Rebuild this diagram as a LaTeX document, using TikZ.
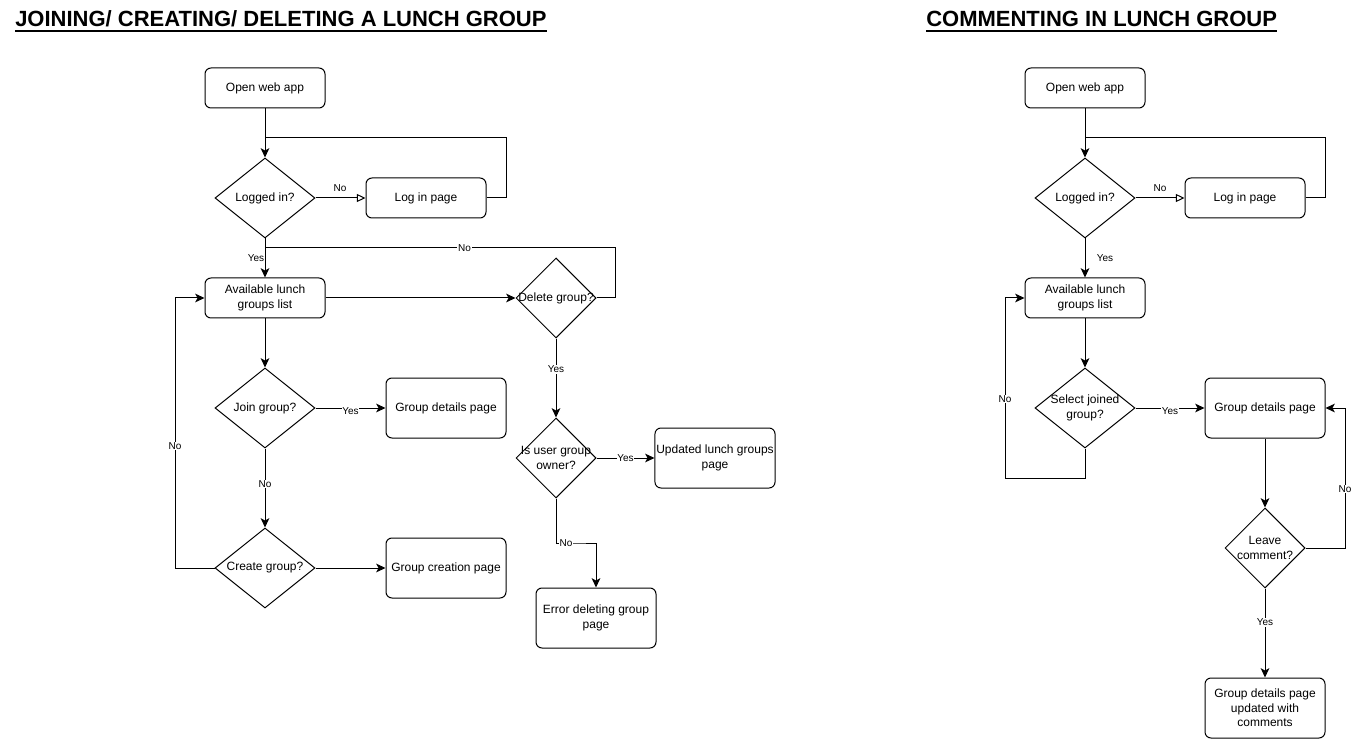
\documentclass[tikz,border=0pt]{standalone}
\usepackage{fontspec}
\setmainfont{Liberation Sans}
\usetikzlibrary{arrows.meta,shapes.geometric,calc}
\tikzset{
  box/.style={draw, rounded corners=4.5pt, line width=0.75pt, minimum width=90pt, minimum height=30pt, inner sep=1pt, align=center, font=\fontsize{9}{11}\selectfont},
  tallbox/.style={box, minimum height=45pt},
  dia/.style={draw, diamond, line width=0.75pt, inner sep=0pt, minimum width=75pt, minimum height=60pt},
  sdia/.style={dia, minimum width=60pt},
  dtext/.style={align=center, inner sep=0pt, font=\fontsize{9}{11}\selectfont},
  arr/.style={line width=0.75pt, -{Stealth[length=7pt,width=6.5pt,inset=1.8pt]}},
  oarr/.style={line width=0.75pt, -{Triangle[open,length=6.5pt,width=6pt,fill=white]}},
  ln/.style={line width=0.75pt},
  lab/.style={fill=white, inner sep=0.6pt, font=\fontsize{7.5}{9}\selectfont},
  ttl/.style={anchor=base west, inner sep=0pt, font=\bfseries\fontsize{16.5}{20}\selectfont}
}
\begin{document}
\begin{tikzpicture}[x=0.75pt,y=-0.75pt]
\useasboundingbox (0,0) rectangle (1360,745);
% titles
\node[ttl] (t1) at (15,27) {JOINING/ CREATING/ DELETING A LUNCH GROUP};
\draw[line width=1.5pt] ([yshift=-3pt]t1.base west) -- ([yshift=-3pt]t1.base east);
\node[ttl] (t2) at (926,27) {COMMENTING IN LUNCH GROUP};
\draw[line width=1.5pt] ([yshift=-3pt]t2.base west) -- ([yshift=-3pt]t2.base east);

% ===== left diagram =====
\node[box] (open1) at (265,88) {Open web app};
\node[dia] (log1) at (265,198) {};
\node[dtext] (log1t) at (log1.center) {Logged in?};
\node[box] (lp1) at (426,198) {Log in page};
\node[box] (av1) at (265,298) {Available lunch\\groups list};
\node[sdia] (del) at (556,298) {};
\node[dtext] (delt) at (del.center) {Delete group?};
\node[sdia] (own) at (556,458) {};
\node[dtext] (ownt) at (own.center) {Is user group\\owner?};
\node[tallbox] (upd) at (715,458) {Updated lunch groups\\page};
\node[tallbox] (err) at (596,618) {Error deleting group\\page};
\node[dia] (join) at (265,408) {};
\node[dtext] (joint) at (join.center) {Join group?};
\node[tallbox] (gdp1) at (446,408) {Group details page};
\node[dia] (cre) at (265,568) {};
\node[dtext] (cret) at (cre.center) {Create group?};
\node[tallbox] (gcp) at (446,568) {Group creation page};

\coordinate (r1) at (506,138);
\coordinate (j1) at (265,138);
\coordinate (r2) at (615,248);
\coordinate (j2) at (265,248);
\coordinate (l1) at (175,568);

\draw[arr] (open1.south) -- (log1.north);
\draw[ln] (lp1.east) -| (r1) -- (j1);
\draw[oarr] (log1.east) -- (lp1.west);
\node[font=\fontsize{7.5}{9}\selectfont, inner sep=0pt] (no1) at (340,188) {No};
\draw[arr] (log1.south) -- (av1.north);
\node[lab] (yes1) at (256,258) {Yes};
\draw[arr] (av1.east) -- (del.west);
\draw[ln] (del.east) -| (r2) -- node[lab,pos=0.43] (no2) {No} (j2);
\draw[arr] (del.south) -- node[lab,pos=0.39] (yes2) {Yes} (own.north);
\draw[arr] (own.east) -- node[lab] (yes3) {Yes} (upd.west);
\draw[arr] (own.south) |- node[lab,pos=0.75] (no3) {No} ($(own.south)!0.5!(err.north)$) -| (err.north);
\draw[arr] (av1.south) -- (join.north);
\draw[arr] (join.east) -- node[lab,pos=0.5,yshift=-2pt] (yes4) {Yes} (gdp1.west);
\draw[arr] (join.south) -- node[lab,pos=0.45] (no4) {No} (cre.north);
\draw[arr] (cre.east) -- (gcp.west);
\draw[arr] (cre.west) -- (l1) |- node[lab,pos=0.226] (no5) {No} (av1.west);

% ===== right diagram =====
\node[box] (open2) at (1085,88) {Open web app};
\node[dia] (log2) at (1085,198) {};
\node[dtext] (log2t) at (log2.center) {Logged in?};
\node[box] (lp2) at (1245,198) {Log in page};
\node[box] (av2) at (1085,298) {Available lunch\\groups list};
\node[dia] (sel) at (1085,408) {};
\node[dtext] (selt) at (sel.center) {Select joined\\group?};
\node[tallbox] (gdp2) at (1265,408) {Group details page};
\node[sdia] (lea) at (1265,548) {};
\node[dtext] (leat) at (lea.center) {Leave\\comment?};
\node[tallbox] (fin) at (1265,708) {Group details page\\updated with\\comments};

\coordinate (r3) at (1325,138);
\coordinate (j3) at (1085,138);
\coordinate (b3) at (1085,478);
\coordinate (l3) at (1005,478);
\coordinate (r4) at (1345,548);

\draw[arr] (open2.south) -- (log2.north);
\draw[ln] (lp2.east) -| (r3) -- (j3);
\draw[oarr] (log2.east) -- (lp2.west);
\node[font=\fontsize{7.5}{9}\selectfont, inner sep=0pt] (no6) at (1160,188) {No};
\draw[arr] (log2.south) -- (av2.north);
\node[font=\fontsize{7.5}{9}\selectfont, inner sep=0pt] (yes6) at (1105,258) {Yes};
\draw[arr] (av2.south) -- (sel.north);
\draw[arr] (sel.south) -- (b3) -- (l3) |- node[lab,pos=0.22] (no7) {No} (av2.west);
\draw[arr] (sel.east) -- node[lab,yshift=-2pt] (yes7) {Yes} (gdp2.west);
\draw[arr] (gdp2.south) -- (lea.north);
\draw[arr] (lea.east) -- (r4) |- node[lab,pos=0.21] (no8) {No} (gdp2.east);
\draw[arr] (lea.south) -- node[lab,pos=0.38] (yes8) {Yes} (fin.north);
\end{tikzpicture}
\end{document}
